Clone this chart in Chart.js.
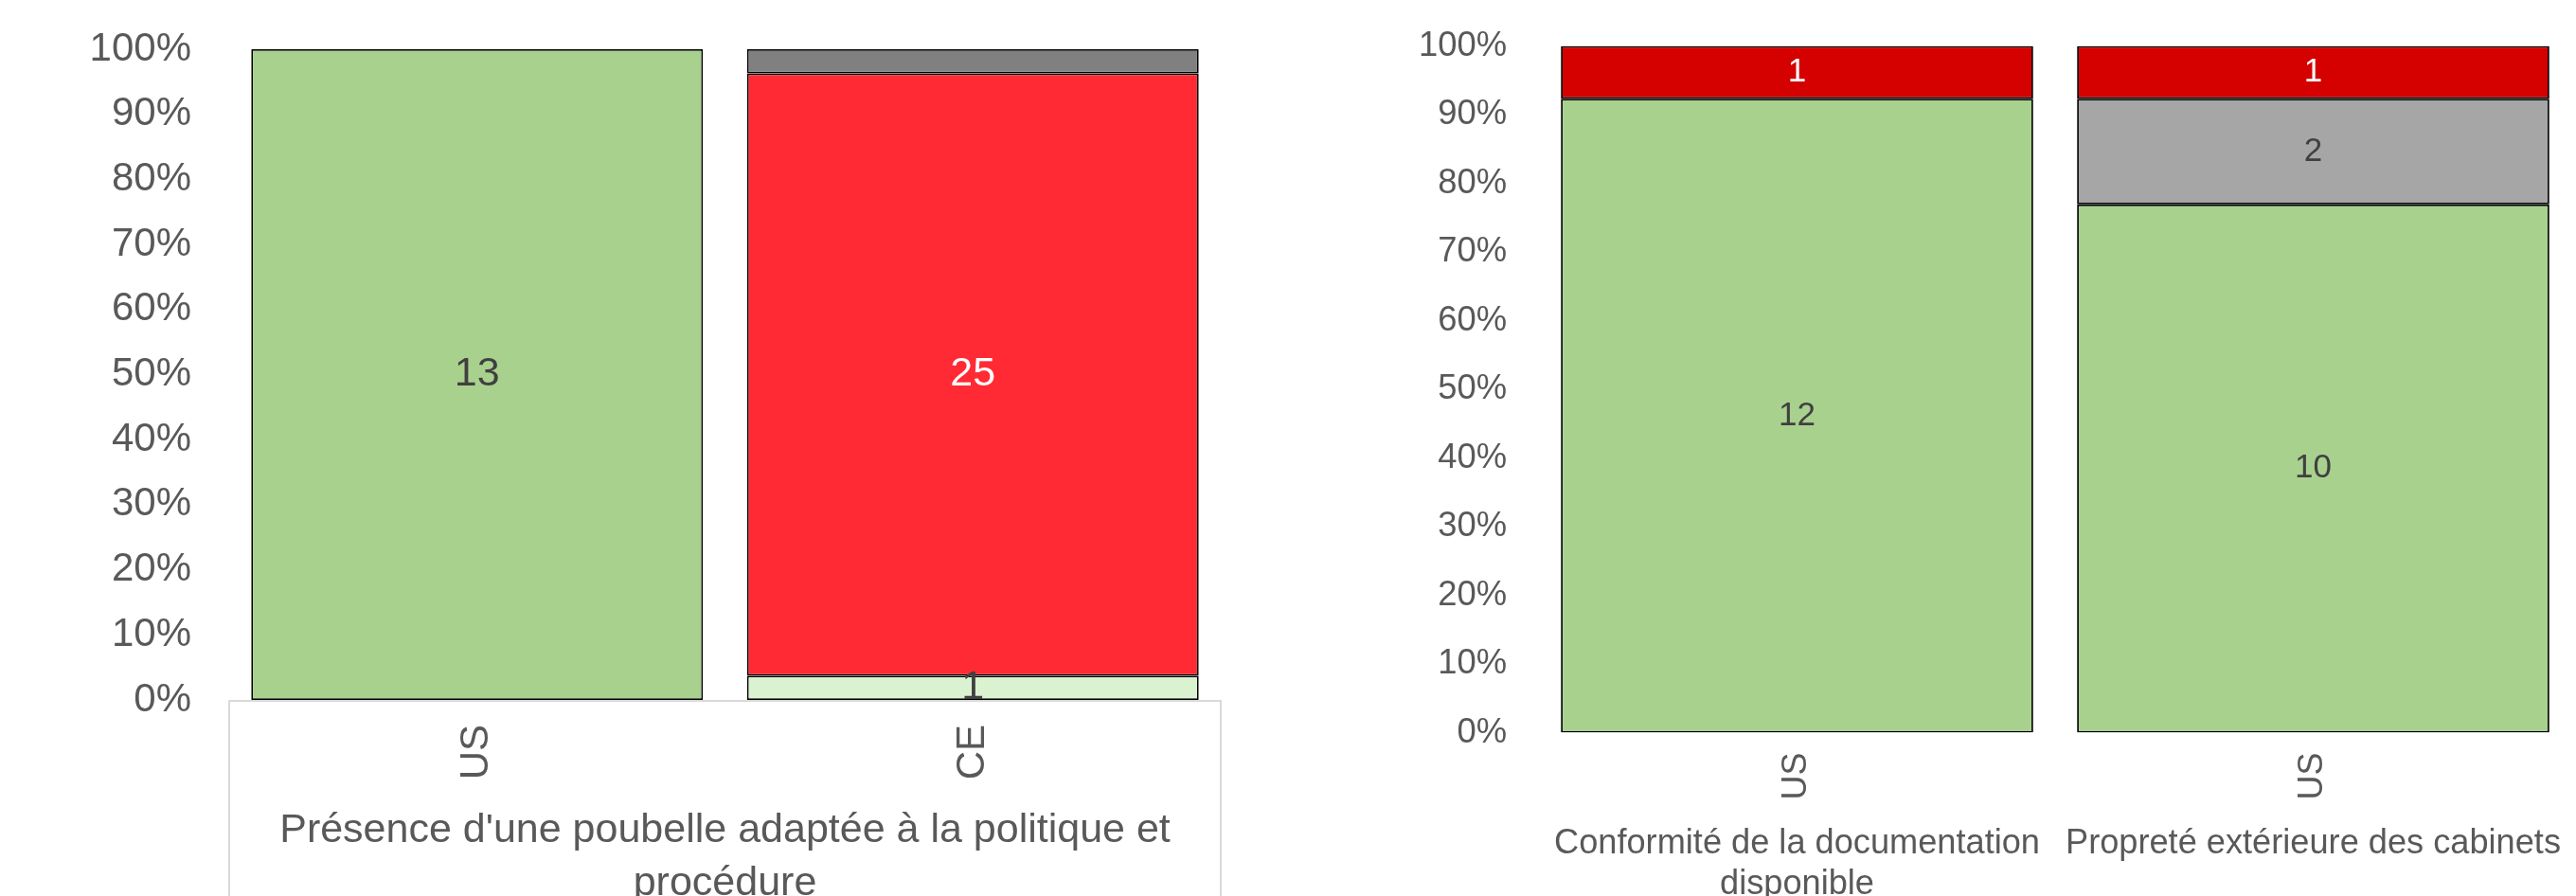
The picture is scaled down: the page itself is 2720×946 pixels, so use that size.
<!DOCTYPE html>
<html lang="fr">
<head>
<meta charset="utf-8">
<title>Graphiques</title>
<script src="https://cdn.jsdelivr.net/npm/chart.js@4.4.0/dist/chart.umd.min.js"></script>
<style>
  html, body { margin: 0; padding: 0; background: #fff; overflow: hidden; }
  body { width: 2720px; height: 946px; position: relative; }
  .chart { position: absolute; top: 0; height: 1000px; }
  #left { left: 0; width: 1300px; }
  #right { left: 1360px; width: 1360px; }
</style>
</head>
<body>
<div class="chart" id="left"><canvas id="chartLeft"></canvas></div>
<div class="chart" id="right"><canvas id="chartRight"></canvas></div>

<script>
// Données - graphique de gauche
const leftCategories = ['US', 'CE'];
const leftGroup = [["Présence d'une poubelle adaptée à la politique et", 'procédure']];
const leftGreen = [13, 0];
const leftLightGreen = [0, 1];
const leftRed = [0, 25];
const leftGray = [0, 1];

// Données - graphique de droite
const rightCategories = ['US', 'US'];
const rightGroups = [['Conformité de la documentation', 'disponible'], ['Propreté extérieure des cabinets']];
const rightGreen = [12, 10];
const rightGray = [0, 2];
const rightRed = [1, 1];

const yTicks = ['0%', '10%', '20%', '30%', '40%', '50%', '60%', '70%', '80%', '90%', '100%'];

const FONT = "'Liberation Sans', Arial, sans-serif";
const TEXT = '#595959';

// passage des effectifs en pourcentage de la barre
function toPercent(series, all) {
  return series.map((v, i) => {
    const total = all.reduce((s, arr) => s + arr[i], 0);
    return v ? v / total * 100 : null;
  });
}

function ds(label, counts, all, color, labelColor, showLabel, barPct) {
  return {
    label,
    data: toPercent(counts, all),
    counts,
    backgroundColor: color,
    borderColor: '#000',
    borderWidth: 1.8,
    borderSkipped: false,
    barPercentage: barPct,
    categoryPercentage: 1,
    labelColor,
    showLabel
  };
}

// étiquettes de valeurs au centre des segments (+ cadre de l'axe à gauche)
const valueLabels = {
  id: 'valueLabels',
  afterDatasetsDraw(chart, args, opts) {
    const ctx = chart.ctx;
    const area = chart.chartArea;
    if (opts.box) {
      ctx.save();
      ctx.strokeStyle = '#D9D9D9';
      ctx.lineWidth = 2;
      ctx.strokeRect(area.left, area.bottom + 1, area.right - area.left, chart.height);
      ctx.restore();
    }
    ctx.save();
    ctx.font = opts.size + 'px ' + FONT;
    ctx.textAlign = 'center';
    ctx.textBaseline = 'middle';
    chart.data.datasets.forEach((d, di) => {
      if (!d.showLabel) return;
      chart.getDatasetMeta(di).data.forEach((bar, i) => {
        if (!d.counts[i]) return;
        ctx.fillStyle = d.labelColor;
        ctx.fillText(String(d.counts[i]), bar.x, (bar.y + bar.base) / 2);
      });
    });
    ctx.restore();
  }
};

function noPad(s) {
  s.paddingTop = 0; s.paddingBottom = 0; s.paddingLeft = 0; s.paddingRight = 0;
}

function makeOptions(cfg) {
  return {
    responsive: true,
    maintainAspectRatio: false,
    animation: false,
    layout: { padding: { top: cfg.top, right: cfg.right, bottom: 0, left: 0 } },
    plugins: {
      legend: { display: false },
      tooltip: { enabled: false },
      valueLabels: { size: cfg.labelSize, box: cfg.box }
    },
    scales: {
      x: {
        stacked: true,
        grid: { display: false, drawTicks: false },
        border: { display: false },
        ticks: {
          color: TEXT,
          font: { family: FONT, size: cfg.tickSize },
          minRotation: 90, maxRotation: 90,
          padding: cfg.xPad,
          autoSkip: false
        },
        afterFit: s => { s.height = cfg.xHeight; noPad(s); }
      },
      x2: {
        type: 'category',
        position: 'bottom',
        weight: 1,
        labels: cfg.groups,
        offset: true,
        grid: { display: false, drawTicks: false },
        border: { display: false },
        ticks: {
          color: TEXT,
          font: { family: FONT, size: cfg.groupSize, lineHeight: cfg.groupLine },
          maxRotation: 0, minRotation: 0,
          padding: cfg.groupPad,
          autoSkip: false
        },
        afterFit: s => { s.height = cfg.groupHeight; noPad(s); }
      },
      y: {
        stacked: true,
        min: 0,
        max: 100,
        grid: { display: false, drawTicks: false },
        border: { display: false },
        ticks: {
          stepSize: 10,
          color: TEXT,
          font: { family: FONT, size: cfg.ySize },
          padding: cfg.yPad,
          callback: (v, i) => yTicks[i]
        },
        afterFit: s => { s.width = cfg.yWidth; noPad(s); }
      }
    }
  };
}

const leftAll = [leftGreen, leftLightGreen, leftRed, leftGray];
new Chart(document.getElementById('chartLeft'), {
  type: 'bar',
  data: {
    labels: leftCategories,
    datasets: [
      ds('Conforme', leftGreen, leftAll, '#A9D18E', '#404040', true, 0.911),
      ds('Conforme partiel', leftLightGreen, leftAll, '#DAF2D0', '#404040', true, 0.911),
      ds('Non conforme', leftRed, leftAll, '#FF2A33', '#FFFFFF', true, 0.911),
      ds('NA', leftGray, leftAll, '#808080', '#808080', false, 0.911)
    ]
  },
  options: makeOptions({
    top: 52, right: 11, box: true, labelSize: 43,
    tickSize: 42, xPad: 26, xHeight: 100,
    groups: leftGroup, groupSize: 43, groupLine: 1.3, groupPad: 10, groupHeight: 161,
    ySize: 42, yPad: 40, yWidth: 242
  }),
  plugins: [valueLabels]
});

const rightAll = [rightGreen, rightGray, rightRed];
new Chart(document.getElementById('chartRight'), {
  type: 'bar',
  data: {
    labels: rightCategories,
    datasets: [
      ds('Conforme', rightGreen, rightAll, '#A9D18E', '#404040', true, 0.915),
      ds('NA', rightGray, rightAll, '#A6A6A6', '#404040', true, 0.915),
      ds('Non conforme', rightRed, rightAll, '#D50000', '#FFFFFF', true, 0.915)
    ]
  },
  options: makeOptions({
    top: 48.5, right: 5, box: false, labelSize: 35,
    tickSize: 36, xPad: 21, xHeight: 80,
    groups: rightGroups, groupSize: 36.2, groupLine: 1.19, groupPad: 16, groupHeight: 146.4,
    ySize: 36.4, yPad: 34, yWidth: 265
  }),
  plugins: [valueLabels]
});
</script>
</body>
</html>
